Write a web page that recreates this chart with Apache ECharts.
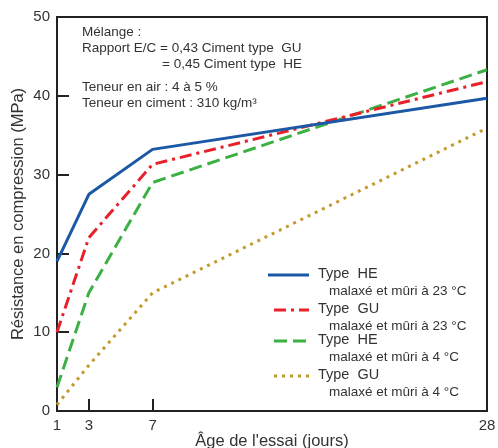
<!DOCTYPE html>
<html>
<head>
<meta charset="utf-8">
<script src="https://cdn.jsdelivr.net/npm/echarts@6/dist/echarts.min.js"></script>
<style>
  html, body { margin: 0; padding: 0; background: #fff; }
  #chart { width: 498px; height: 448px; }
</style>
</head>
<body>
<div id="chart"></div>
<script>
// âge de l'essai (jours)
const days = [1, 3, 7, 28];
const xTicks = [1, 3, 7, 28];
// résistance en compression (MPa)
const he23 = [19, 27.5, 33.2, 39.7];
const gu23 = [10, 22, 31.3, 41.8];
const he4 = [3, 15, 29, 43.3];
const gu4 = [0.8, 5.8, 15, 35.9];

const seriesNames = ['Type  HE', 'Type  GU', 'Type  HE', 'Type  GU'];
const seriesNotes = ['malaxé et mûri à 23 °C', 'malaxé et mûri à 23 °C', 'malaxé et mûri à 4 °C', 'malaxé et mûri à 4 °C'];
const colors = ['#1b58a5', '#e8202a', '#3cb043', '#c49a2c'];
const dashes = ['solid', [12, 5, 3, 5], [13, 6], [3, 5]];

const pairs = (ys) => days.map((d, i) => [d, ys[i]]);
const allData = [he23, gu23, he4, gu4];

let myChart = echarts.init(document.getElementById('chart'));

const font = 'Liberation Sans, Arial';
let txt = { fill: '#333', fontSize: 13.5, fontFamily: font };

// légende faite à la main (icône alignée sur la 1re ligne)
let legendItems = [];
let legendY = [275, 310, 341, 376];
for (let i = 0; i < 4; i++) {
  legendItems.push({
    type: 'line',
    shape: { x1: i === 0 ? 268 : 274, y1: legendY[i], x2: 309, y2: legendY[i] },
    style: { stroke: colors[i], lineWidth: 3, lineDash: dashes[i] === 'solid' ? null : dashes[i] }
  });
  legendItems.push({
    type: 'text', left: 318, top: legendY[i] - 9,
    style: Object.assign({}, txt, { text: seriesNames[i], fontSize: 14.5 })
  });
  legendItems.push({
    type: 'text', left: 329, top: legendY[i] + 9,
    style: Object.assign({}, txt, { text: seriesNotes[i] })
  });
}

let note = [
  { type: 'text', left: 82, top: 25, style: Object.assign({}, txt, { text: 'Mélange :' }) },
  { type: 'text', left: 82, top: 41, style: Object.assign({}, txt, { text: 'Rapport E/C = 0,43 Ciment type  GU' }) },
  { type: 'text', left: 162, top: 57, style: Object.assign({}, txt, { text: '= 0,45 Ciment type  HE' }) },
  { type: 'text', left: 82, top: 80, style: Object.assign({}, txt, { text: 'Teneur en air : 4 à 5 %' }) },
  { type: 'text', left: 82, top: 96, style: Object.assign({}, txt, { text: 'Teneur en ciment : 310 kg/m³' }) }
];

let option = {
  animation: false,
  grid: {
    left: 57, right: 11, top: 17, bottom: 37,
    outerBoundsMode: 'none',
    containLabel: false,
    show: true,
    borderColor: '#222',
    borderWidth: 2
  },
  xAxis: {
    type: 'value',
    min: 1,
    max: 28,
    name: "Âge de l'essai (jours)",
    nameLocation: 'middle',
    nameGap: 22,
    nameMoveOverlap: false,
    nameTextStyle: { color: '#333', fontSize: 16.5, fontFamily: font },
    axisLine: { lineStyle: { color: '#222', width: 2 } },
    axisTick: { inside: true, length: 12, customValues: [3, 7], lineStyle: { color: '#222', width: 2 } },
    axisLabel: { customValues: xTicks, color: '#333', fontSize: 15, margin: 7, fontFamily: font },
    splitLine: { show: false }
  },
  yAxis: {
    type: 'value',
    min: 0,
    max: 50,
    interval: 10,
    name: 'Résistance en compression (MPa)',
    nameLocation: 'middle',
    nameGap: 30,
    nameMoveOverlap: false,
    nameTextStyle: { color: '#333', fontSize: 16.5, fontFamily: font },
    axisLine: { lineStyle: { color: '#222', width: 2 } },
    axisTick: { inside: true, length: 12, lineStyle: { color: '#222', width: 2 } },
    axisLabel: { color: '#333', fontSize: 15, margin: 7, fontFamily: font },
    splitLine: { show: false }
  },
  series: allData.map((ys, i) => ({
    name: seriesNames[i] + ' ' + seriesNotes[i],
    type: 'line',
    data: pairs(ys),
    symbol: 'none',
    lineStyle: { color: colors[i], width: 3, type: dashes[i] },
    z: 10 - i
  })),
  graphic: note.concat(legendItems)
};

myChart.setOption(option, true);

window.addEventListener('resize', () => {
  myChart.resize();
});
</script>
</body>
</html>
